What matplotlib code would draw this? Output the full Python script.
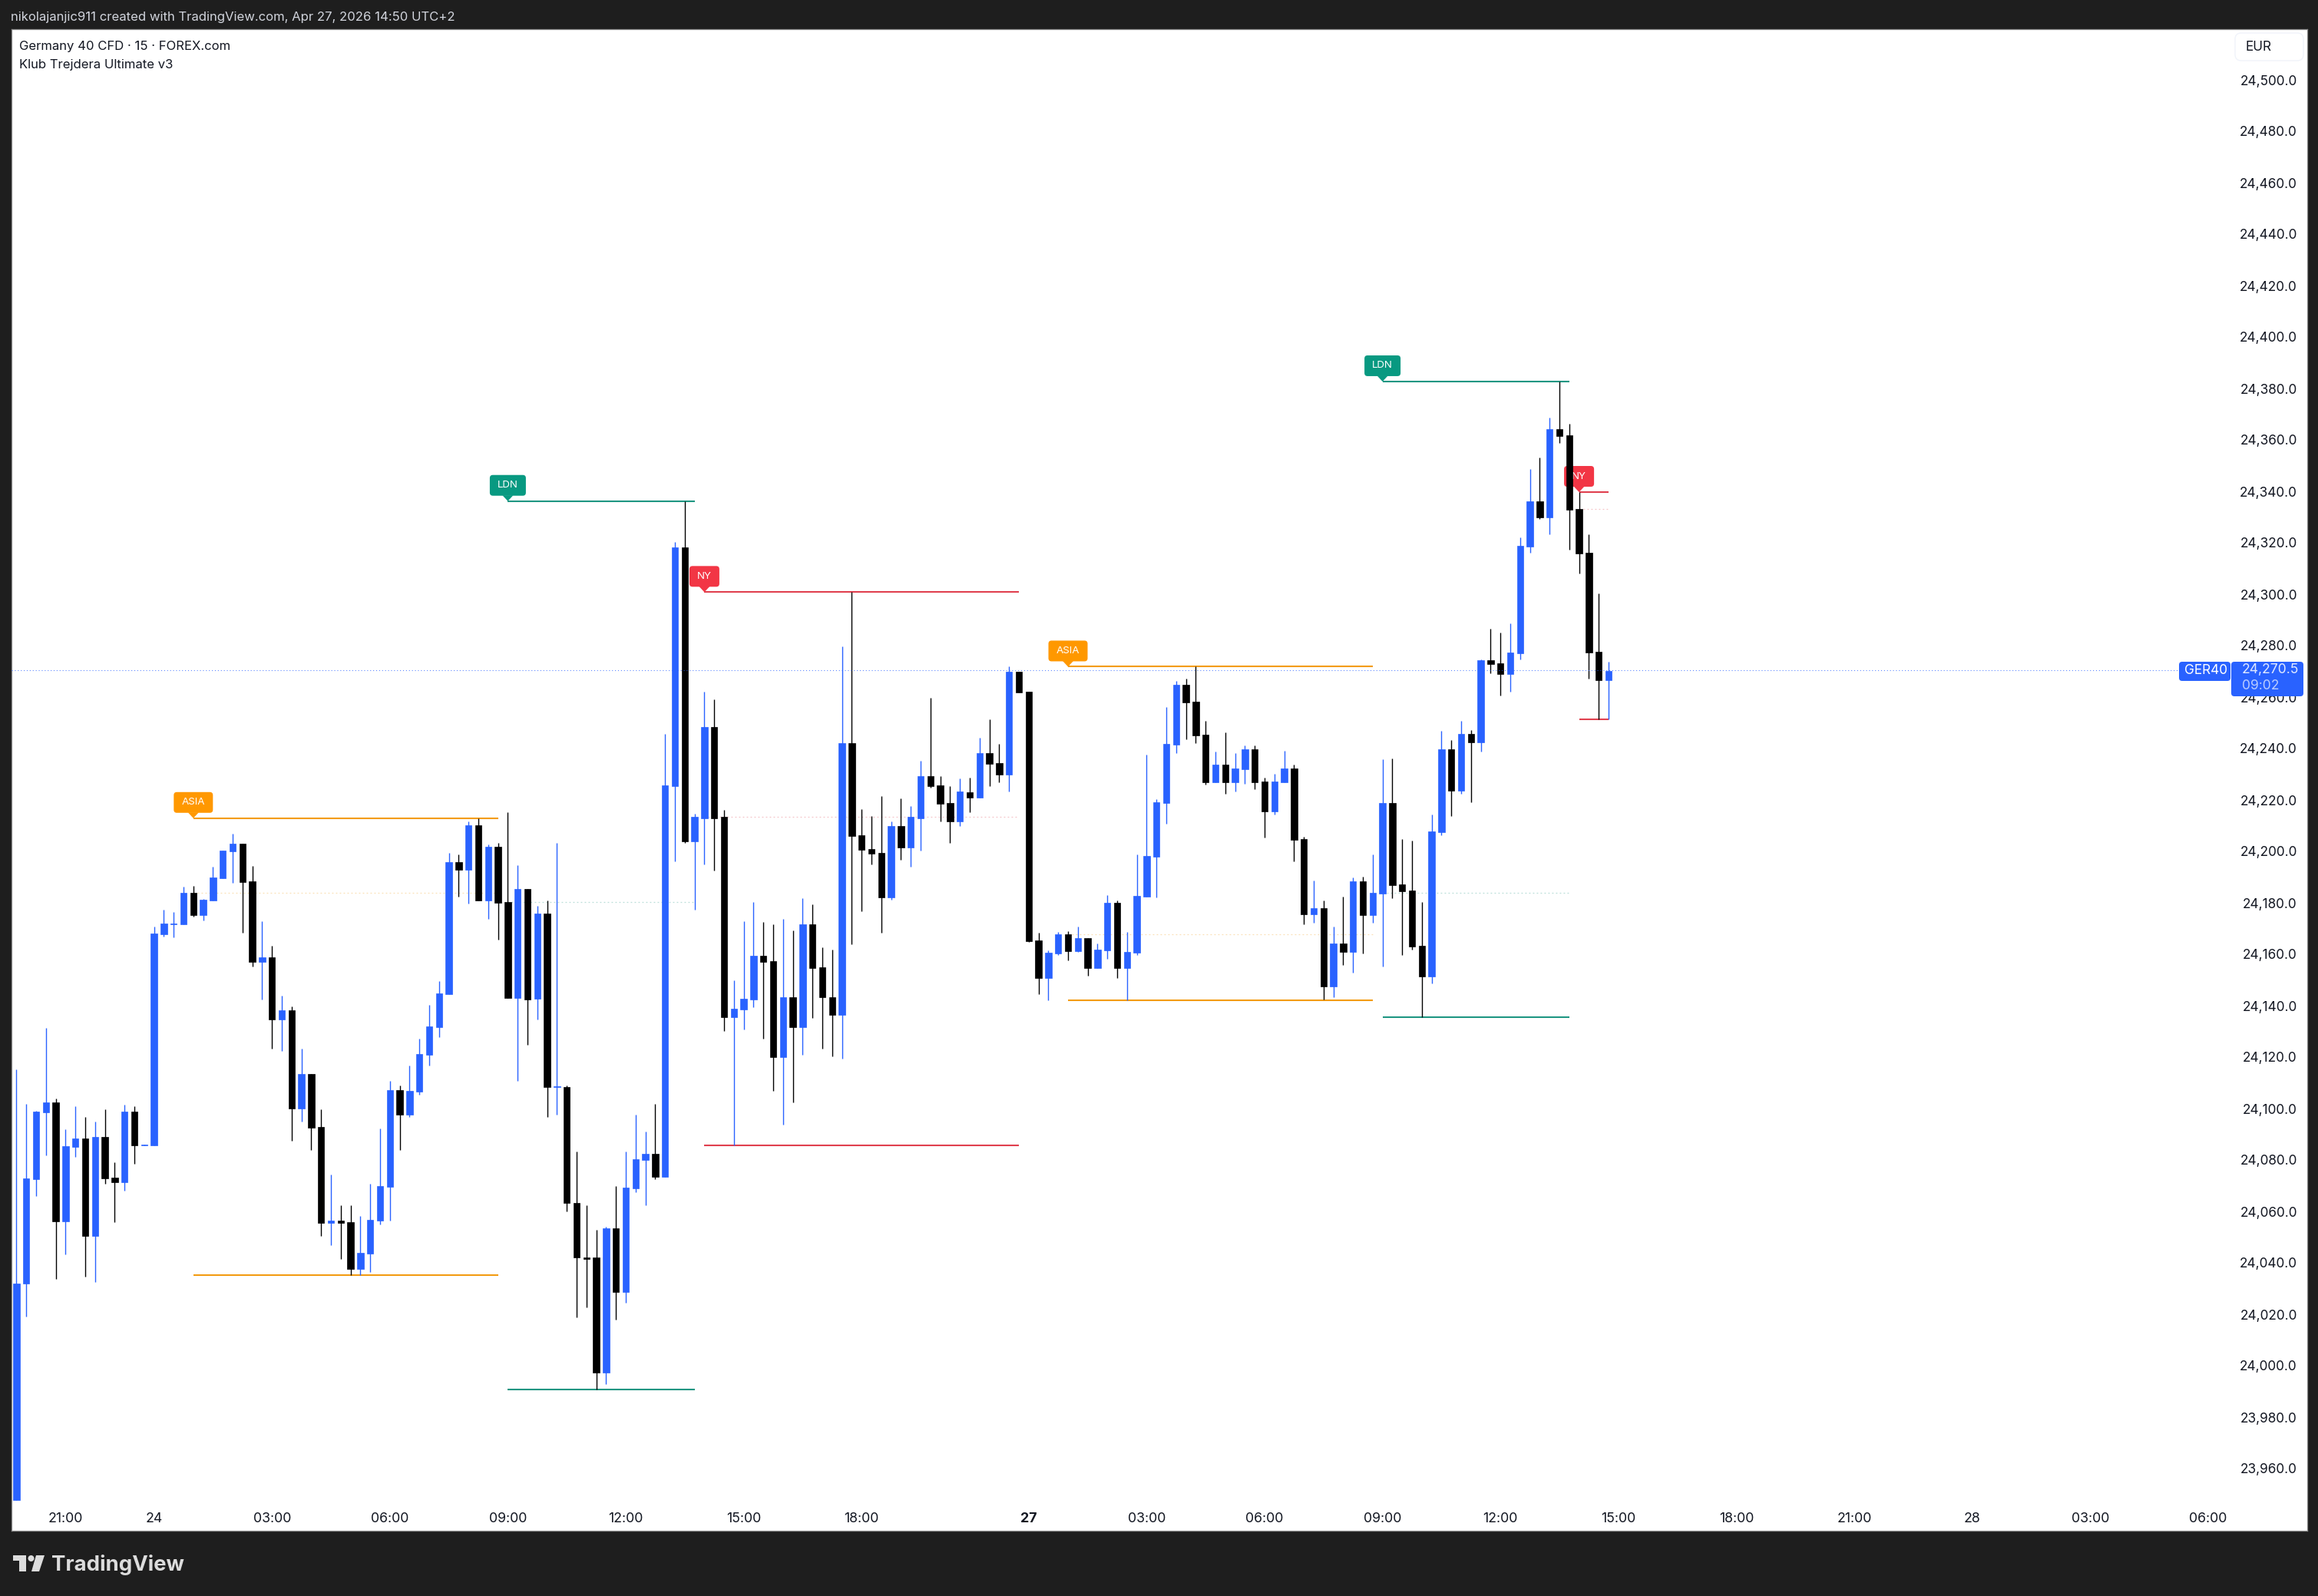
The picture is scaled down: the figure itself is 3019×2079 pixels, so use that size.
import matplotlib
matplotlib.use('Agg')
import matplotlib.pyplot as plt
import numpy as np
from matplotlib.patches import FancyBboxPatch, Polygon, Circle
from matplotlib.transforms import IdentityTransform

W, H = 3019, 2079
plt.rcParams['font.family'] = ['Inter', 'DejaVu Sans']

# 15 minute bars
opens = [
  23947.8, 24031.8, 24072.6, 24098.5, 24102.3, 24056.1, 24085.2, 24088.3, 24050.3, 24088.9,
  24073.0, 24071.4, 24098.8, 24085.7, 24085.7, 24167.8, 24171.6, 24171.6, 24183.9, 24175.2,
  24180.9, 24189.6, 24199.9, 24202.9, 24188.3, 24157.0, 24158.8, 24134.6, 24138.2, 24100.0,
  24113.4, 24092.8, 24055.5, 24056.4, 24055.8, 24037.6, 24043.5, 24056.4, 24069.5, 24107.2,
  24097.6, 24106.5, 24120.9, 24131.7, 24144.5, 24195.8, 24192.8, 24210.1, 24180.9, 24201.7,
  24180.3, 24143.0, 24185.3, 24142.7, 24175.8, 24108.5, 24108.5, 24063.2, 24042.2, 24042.0,
  23997.2, 24053.4, 24028.7, 24068.9, 24080.1, 24082.4, 24073.3, 24225.4, 24318.1, 24203.9,
  24212.8, 24248.5, 24213.3, 24135.6, 24138.6, 24142.5, 24159.4, 24157.3, 24120.1, 24143.4,
  24131.7, 24171.5, 24155.0, 24143.4, 24136.5, 24242.1, 24206.2, 24200.9, 24199.4, 24182.2,
  24209.9, 24201.6, 24212.8, 24229.3, 24225.6, 24218.8, 24211.5, 24223.1, 24221.0, 24238.2,
  24234.3, 24230.0, 24269.9, 24262.1, 24165.4, 24150.8, 24160.4, 24167.8, 24161.2, 24166.3,
  24154.6, 24161.5, 24180.0, 24154.6, 24160.7, 24182.5, 24198.0, 24218.9, 24241.5, 24264.8,
  24258.2, 24245.4, 24226.9, 24233.8, 24226.9, 24232.0, 24239.7, 24227.2, 24215.6, 24226.9,
  24232.2, 24204.8, 24175.6, 24177.9, 24147.5, 24164.2, 24161.0, 24188.4, 24175.1, 24183.7,
  24218.9, 24187.2, 24184.8, 24163.4, 24151.4, 24207.5, 24239.7, 24223.6, 24245.7, 24242.4,
  24274.3, 24273.1, 24268.9, 24277.1, 24318.5, 24336.1, 24329.8, 24364.2, 24361.8, 24333.1,
  24316.1, 24277.6, 24266.6,
]
highs = [
  24115.2, 24101.8, 24099.2, 24131.4, 24103.8, 24091.9, 24100.9, 24096.6, 24094.8, 24099.7,
  24079.1, 24101.5, 24100.8, 24086.0, 24170.7, 24177.2, 24176.5, 24186.2, 24186.5, 24181.6,
  24194.0, 24200.2, 24206.8, 24202.9, 24194.3, 24172.8, 24163.2, 24143.9, 24139.6, 24123.3,
  24113.4, 24099.7, 24074.3, 24062.4, 24062.4, 24058.1, 24070.8, 24092.2, 24110.7, 24109.0,
  24116.8, 24127.1, 24140.2, 24149.6, 24199.3, 24198.7, 24211.6, 24212.9, 24202.6, 24203.3,
  24215.3, 24194.6, 24185.3, 24178.8, 24180.9, 24203.2, 24109.1, 24083.3, 24062.5, 24052.9,
  24053.9, 24069.9, 24083.3, 24097.5, 24090.9, 24101.8, 24245.7, 24320.4, 24336.2, 24214.7,
  24262.2, 24259.2, 24216.0, 24150.0, 24172.9, 24180.4, 24172.4, 24171.5, 24173.8, 24169.2,
  24181.8, 24179.5, 24162.8, 24161.9, 24279.8, 24300.8, 24216.3, 24213.7, 24221.5, 24211.7,
  24220.6, 24217.6, 24235.2, 24259.7, 24229.3, 24225.4, 24228.4, 24228.6, 24244.1, 24251.4,
  24241.8, 24272.0, 24269.9, 24262.1, 24168.4, 24161.5, 24168.6, 24169.1, 24170.8, 24166.3,
  24164.2, 24183.0, 24180.9, 24168.7, 24198.8, 24237.7, 24220.3, 24256.2, 24266.3, 24267.2,
  24271.8, 24250.7, 24238.8, 24246.3, 24238.3, 24241.3, 24241.3, 24228.7, 24230.2, 24239.1,
  24233.7, 24205.7, 24188.6, 24180.9, 24170.8, 24182.5, 24189.9, 24190.2, 24198.8, 24235.8,
  24236.1, 24204.8, 24204.2, 24180.3, 24214.3, 24246.9, 24243.3, 24250.7, 24247.2, 24274.7,
  24286.6, 24285.1, 24288.6, 24322.1, 24348.6, 24353.1, 24368.6, 24382.7, 24366.2, 24339.7,
  24323.3, 24300.3, 24273.7,
]
lows = [
  23947.8, 24019.0, 24066.0, 24081.7, 24033.6, 24043.3, 24081.3, 24034.5, 24032.4, 24070.6,
  24055.8, 24068.0, 24078.5, 24085.7, 24085.7, 24167.0, 24166.6, 24171.6, 24174.5, 24173.0,
  24180.9, 24189.6, 24187.7, 24168.5, 24155.1, 24142.3, 24123.3, 24122.4, 24087.4, 24094.8,
  24083.9, 24050.3, 24046.8, 24041.5, 24035.1, 24035.1, 24036.3, 24054.9, 24056.4, 24083.9,
  24096.7, 24105.3, 24116.8, 24127.7, 24144.5, 24182.4, 24179.8, 24180.9, 24173.7, 24165.8,
  24143.0, 24110.7, 24124.7, 24134.7, 24096.8, 24097.7, 24060.0, 24018.9, 24022.6, 23990.6,
  23992.9, 24018.0, 24024.6, 24067.6, 24062.5, 24072.4, 24073.3, 24196.2, 24203.2, 24177.4,
  24194.8, 24192.5, 24130.1, 24085.6, 24130.8, 24139.5, 24127.2, 24106.9, 24093.6, 24102.5,
  24121.0, 24135.2, 24123.3, 24120.3, 24119.4, 24164.0, 24176.7, 24194.8, 24168.5, 24181.1,
  24196.8, 24193.9, 24200.3, 24224.7, 24211.5, 24203.2, 24209.9, 24215.3, 24221.0, 24225.4,
  24227.0, 24223.3, 24261.8, 24164.8, 24144.6, 24142.2, 24159.6, 24157.7, 24161.0, 24151.6,
  24154.6, 24158.3, 24150.8, 24142.0, 24159.6, 24182.5, 24182.0, 24210.7, 24238.3, 24243.6,
  24242.1, 24225.9, 24226.9, 24222.5, 24223.3, 24226.3, 24224.2, 24205.4, 24214.4, 24226.9,
  24196.2, 24171.7, 24172.3, 24142.4, 24143.3, 24155.8, 24152.9, 24160.4, 24172.3, 24155.2,
  24181.9, 24159.8, 24161.8, 24135.4, 24148.7, 24206.3, 24213.7, 24222.5, 24219.2, 24238.8,
  24269.3, 24260.7, 24262.2, 24274.7, 24316.1, 24329.3, 24323.3, 24358.8, 24317.3, 24308.1,
  24267.1, 24251.3, 24251.3,
]
closes = [
  24031.9, 24072.7, 24098.8, 24102.3, 24056.1, 24085.4, 24088.3, 24050.3, 24088.9, 24072.7,
  24071.4, 24098.8, 24085.7, 24086.0, 24168.1, 24171.9, 24171.9, 24183.9, 24175.2, 24181.2,
  24189.9, 24200.2, 24202.9, 24188.0, 24157.0, 24158.8, 24134.6, 24138.2, 24100.0, 24113.4,
  24092.5, 24055.5, 24056.4, 24055.5, 24037.6, 24043.8, 24056.8, 24069.8, 24107.2, 24097.6,
  24106.9, 24121.2, 24131.8, 24144.8, 24195.8, 24192.8, 24210.1, 24180.9, 24201.7, 24180.0,
  24143.0, 24185.3, 24142.3, 24175.8, 24108.5, 24108.7, 24063.2, 24042.2, 24041.5, 23997.2,
  24053.4, 24028.7, 24069.4, 24080.4, 24082.4, 24073.3, 24225.6, 24318.1, 24203.9, 24213.3,
  24248.5, 24212.8, 24135.6, 24138.8, 24142.7, 24159.4, 24157.1, 24120.1, 24143.4, 24131.7,
  24171.5, 24154.6, 24143.2, 24136.5, 24242.1, 24206.0, 24200.7, 24199.1, 24182.2, 24209.9,
  24201.6, 24213.3, 24229.3, 24225.4, 24218.5, 24211.5, 24223.3, 24221.0, 24238.2, 24234.1,
  24230.0, 24269.9, 24261.8, 24165.2, 24150.8, 24160.7, 24167.8, 24161.2, 24166.3, 24154.6,
  24161.8, 24180.0, 24154.6, 24160.9, 24182.7, 24198.2, 24219.2, 24241.8, 24264.8, 24257.9,
  24245.1, 24226.9, 24233.8, 24226.9, 24232.2, 24239.7, 24226.9, 24215.6, 24227.2, 24232.2,
  24204.5, 24175.6, 24177.9, 24147.5, 24164.2, 24161.0, 24188.4, 24175.1, 24183.9, 24218.9,
  24186.9, 24184.5, 24163.1, 24151.4, 24207.8, 24239.7, 24223.6, 24245.7, 24242.4, 24274.4,
  24272.8, 24268.9, 24277.3, 24318.8, 24336.1, 24329.8, 24364.2, 24361.5, 24332.8, 24315.8,
  24277.3, 24266.6, 24270.1,
]

price_ticks = list(range(23960, 24501, 20))
time_pos = [5, 14, 26, 38, 50, 62, 74, 86, 103, 115, 127, 139, 151, 163, 175, 187, 199, 211, 223]
time_labels = ['21:00', '24', '03:00', '06:00', '09:00', '12:00', '15:00', '18:00', '27', '03:00',
               '06:00', '09:00', '12:00', '15:00', '18:00', '21:00', '28', '03:00', '06:00']

# session ranges: name, first bar, last bar, high, low
session_names = ['ASIA', 'LDN', 'NY', 'ASIA', 'LDN', 'NY']
session_start = [18, 50, 70, 107, 139, 159]
session_end = [49, 69, 102, 138, 158, 162]
session_high = [24212.9, 24336.2, 24300.8, 24271.8, 24382.7, 24339.7]
session_low = [24035.3, 23990.6, 24085.6, 24142.0, 24135.4, 24251.3]
session_mid = [24183.8, 24180.2, 24213.3, 24167.7, 24183.8, 24333.0]
last_price = 24270.5

BLUE = '#2962ff'
FRAME = '#1e1e1e'
line_col = {'ASIA': '#f39c12', 'LDN': '#1f9682', 'NY': '#e0404f'}
tag_col = {'ASIA': '#ff9800', 'LDN': '#089981', 'NY': '#f23645'}
tag_w = {'ASIA': 51, 'LDN': 47, 'NY': 39}

fig = plt.figure(figsize=(W / 100, H / 100), dpi=100, facecolor=FRAME)
left, right, top, bottom = 15, 3005, 38, 1994
ax = fig.add_axes([left / W, (H - bottom) / H, (right - left) / W, (bottom - top) / H])
ax.set_xlim((left - 21.4) / 12.8, (right - 21.4) / 12.8)
ax.set_ylim(24500 - (bottom - 104) / 3.35, 24500 + (104 - top) / 3.35)
for s in ax.spines.values():
  s.set_color('#8c8c8c')
  s.set_linewidth(0.9)

# axes ----------------------------------
ax.yaxis.tick_right()
ax.set_yticks(price_ticks)
ax.set_yticklabels([f'{p:,.1f}' for p in price_ticks], fontsize=12.4, color='#131722', ha='right')
ax.tick_params(axis='y', length=0, pad=-9.5)
ax.set_xticks(time_pos)
ax.set_xticklabels(time_labels, fontsize=12.8, color='#131722')
ax.tick_params(axis='x', length=0, pad=-17)
for lab in ax.get_xticklabels():
  if lab.get_text() == '27':
    lab.set_fontweight('bold')
  lab.set_verticalalignment('top')

# candles -------------------------------
x = np.arange(len(opens))
o, h, l, c = map(np.array, (opens, highs, lows, closes))
cols = [BLUE if cc >= oo else '#000000' for oo, cc in zip(o, c)]
ax.vlines(x, l, h, colors=cols, linewidth=1.0, zorder=3)
ax.bar(x, np.abs(c - o), width=0.65, bottom=np.minimum(o, c), color=cols,
       edgecolor=cols, linewidth=0.5, zorder=3.1)

# session lines and tags ----------------
for name, x0, x1, hi, lo, mid in zip(session_names, session_start, session_end,
                                     session_high, session_low, session_mid):
  ax.plot([x0, x1], [hi, hi], color=line_col[name], lw=1.5, zorder=2.2, solid_capstyle='butt')
  ax.plot([x0, x1], [lo, lo], color=line_col[name], lw=1.5, zorder=2.2, solid_capstyle='butt')
  ax.plot([x0, x1], [mid, mid], color=line_col[name], lw=0.9, alpha=0.3, ls=(0, (1.5, 2.5)), zorder=1.5)
  px, py = ax.transData.transform((x0, hi))
  w = tag_w[name]
  ax.add_patch(FancyBboxPatch((px - w / 2, py + 7), w, 27, boxstyle='round,pad=0,rounding_size=4',
                              fc=tag_col[name], ec='none', transform=IdentityTransform(), zorder=2.4))
  ax.add_patch(Polygon([(px - 7, py + 7.5), (px + 7, py + 7.5), (px, py)], fc=tag_col[name], ec='none',
                       transform=IdentityTransform(), zorder=2.4))
  ax.text(px, py + 20.5, name, color='white', fontsize=9.6, ha='center', va='center',
          transform=IdentityTransform(), zorder=2.5)

# current price -------------------------
ax.plot([ax.get_xlim()[0], (2838 - 21.4) / 12.8], [last_price, last_price], color=BLUE, lw=0.8,
        ls=(0, (1, 2.5)), alpha=0.75, zorder=4)

def box(x0, y0, x1, y1, fc, ec='none', rad=4, z=6):
  ax.add_patch(FancyBboxPatch((x0, H - y1), x1 - x0, y1 - y0, boxstyle=f'round,pad=0,rounding_size={rad}',
                              fc=fc, ec=ec, lw=1, transform=IdentityTransform(), zorder=z, clip_on=False))

def label(xx, yy, s, color, size, ha='left', weight='normal'):
  fig.text(xx / W, 1 - yy / H, s, color=color, fontsize=size, ha=ha, va='center', fontweight=weight, zorder=9)

box(2838, 862, 2905, 887, BLUE)
box(2906, 862, 3000, 907, BLUE)
label(2845, 874, 'GER40', 'white', 12.4)
label(2920, 873, f'{last_price:,.1f}', '#dfe8ff', 12.6)
label(2920, 893, '09:02', '#b9ccff', 12.6)

box(2911, 43, 3000, 79, 'white', ec='#f0f3fa', rad=8)
label(2924, 61, 'EUR', '#131722', 12.4)

# header and footer ---------------------
label(14, 23, 'nikolajanjic911 created with TradingView.com, Apr 27, 2026 14:50 UTC+2', '#d1d4dc', 12.0)
label(25, 61, 'Germany 40 CFD · 15 · FOREX.com', '#131722', 12.0)
label(25, 85, 'Klub Trejdera Ultimate v3', '#131722', 12.0)

# logo, display pixels counted from the bottom of the figure
logo = '#dcdcdc'
fig.add_artist(Polygon([(17, H - 2026), (34, H - 2026), (34, H - 2047), (25, H - 2047), (25, H - 2033), (17, H - 2033)],
                       fc=logo, ec='none', transform=IdentityTransform()))
fig.add_artist(Circle((40.5, H - 2030), 4, fc=logo, ec='none', transform=IdentityTransform()))
fig.add_artist(Polygon([(47, H - 2026), (58, H - 2026), (51, H - 2047), (41, H - 2047)], fc=logo, ec='none',
                       transform=IdentityTransform()))
label(67, 2038, 'TradingView', logo, 19.8, weight='bold')

fig.savefig('out.png', dpi=100, facecolor=fig.get_facecolor())
